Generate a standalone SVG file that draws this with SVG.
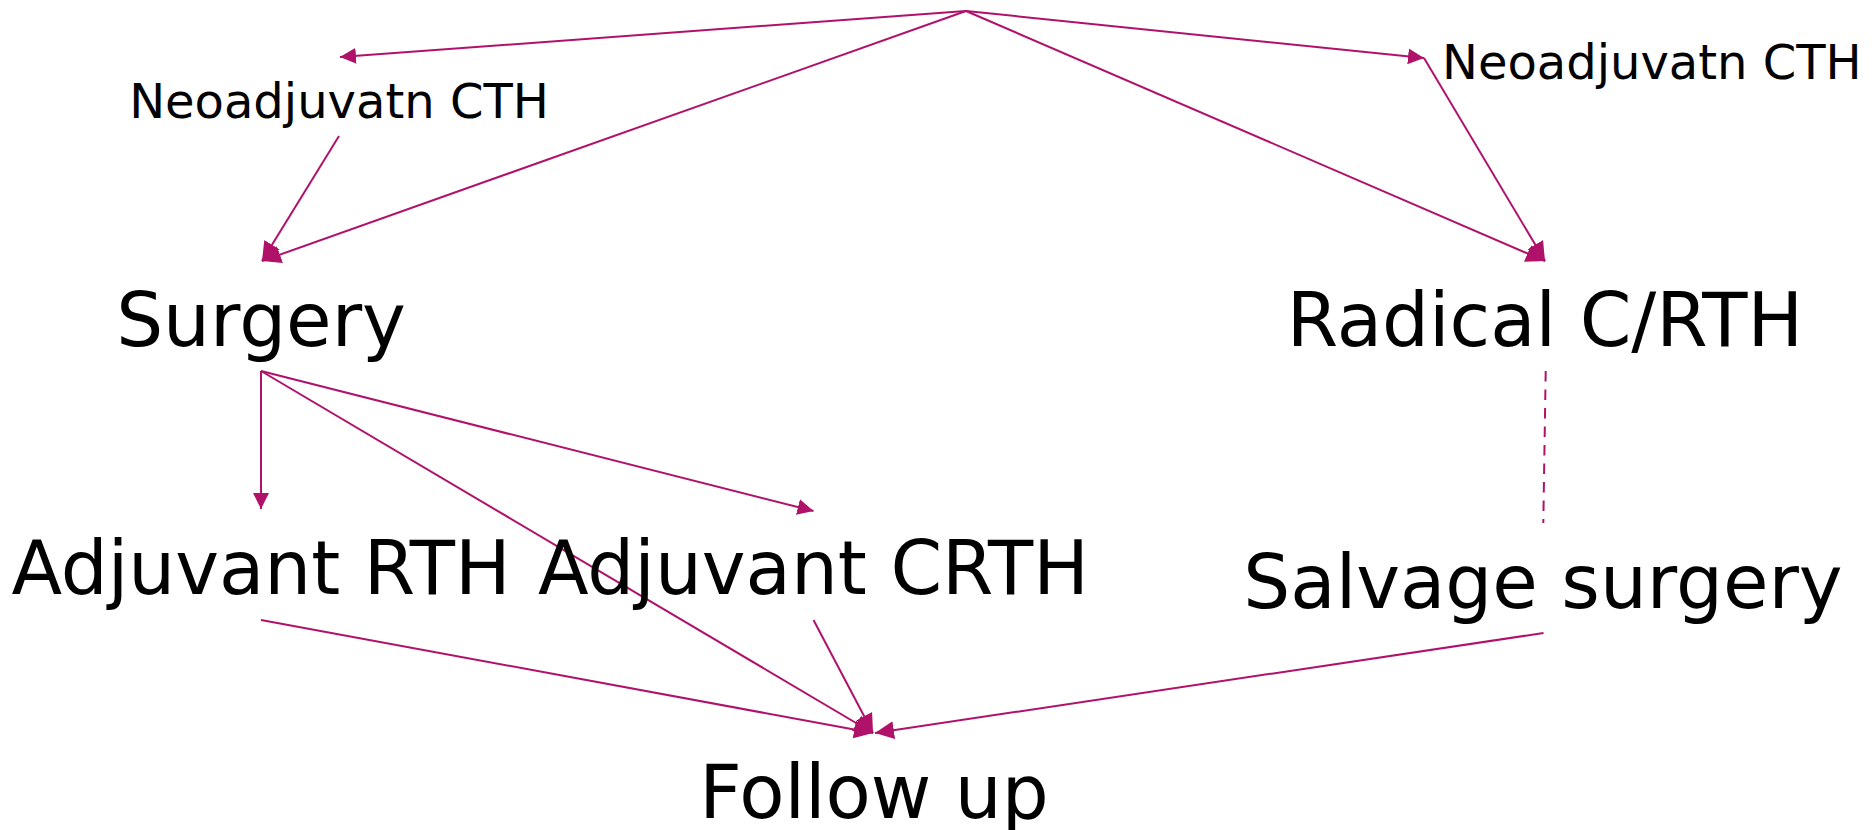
<svg xmlns="http://www.w3.org/2000/svg" width="1876" height="830" viewBox="0 0 1876 830">
<style>
.lbl{font-family:"DejaVu Sans","Liberation Sans",sans-serif;fill:#000;}
.big{font-size:74px;text-anchor:middle;}
.small{font-size:48px;}
.e{stroke:#b0126a;stroke-width:2;fill:none;marker-end:url(#ah);}
.e2{stroke:#b0126a;stroke-width:2;fill:none;marker-end:url(#ah2);}
.d{stroke:#b0126a;stroke-width:2;fill:none;stroke-dasharray:10.5 8;}
</style>
<defs>
<marker id="ah" markerUnits="userSpaceOnUse" markerWidth="16" markerHeight="16" refX="16" refY="8" orient="auto">
<path d="M0,0 L16,8 L0,16 z" fill="#b0126a"/>
</marker>
<marker id="ah2" markerUnits="userSpaceOnUse" markerWidth="19" markerHeight="18" refX="19" refY="9" orient="auto">
<path d="M0,0 L19,9 L0,18 z" fill="#b0126a"/>
</marker>
</defs>
<rect width="1876" height="830" fill="#fff"/>
<g id="connectors">
<line class="e" x1="966" y1="11" x2="340" y2="57"/>
<line class="e2" x1="966" y1="11" x2="262" y2="261"/>
<line class="e" x1="966" y1="11" x2="1424" y2="58"/>
<line class="e2" x1="966" y1="11" x2="1545" y2="261"/>
<line class="e2" x1="339" y1="136" x2="262" y2="261"/>
<line class="e2" x1="1424" y1="58" x2="1545" y2="261"/>
<line class="e" x1="261" y1="371" x2="261" y2="509"/>
<line class="e" x1="261" y1="371" x2="813.5" y2="511"/>
<line class="e2" x1="261" y1="371" x2="873" y2="733"/>
<line class="e2" x1="261" y1="620" x2="873" y2="733"/>
<line class="e2" x1="813.5" y1="620" x2="873" y2="733"/>
<line class="e2" x1="1543.5" y1="633" x2="875" y2="733"/>
<line class="d" x1="1545.7" y1="371" x2="1543.3" y2="523"/>
</g>
<g id="neoadj-left"><text class="lbl small" x="339" y="118" text-anchor="middle">Neoadjuvatn CTH</text></g>
<g id="neoadj-right"><text class="lbl small" x="1442" y="79">Neoadjuvatn CTH</text></g>
<g id="surgery"><text class="lbl big" x="261" y="346">Surgery</text></g>
<g id="radical"><text class="lbl big" x="1545" y="346">Radical C/RTH</text></g>
<g id="adj-rth"><text class="lbl big" x="261" y="594">Adjuvant RTH</text></g>
<g id="adj-crth"><text class="lbl big" x="813.5" y="594">Adjuvant CRTH</text></g>
<g id="salvage"><text class="lbl big" x="1543" y="608">Salvage surgery</text></g>
<g id="followup"><text class="lbl big" x="874" y="818">Follow up</text></g>
</svg>
